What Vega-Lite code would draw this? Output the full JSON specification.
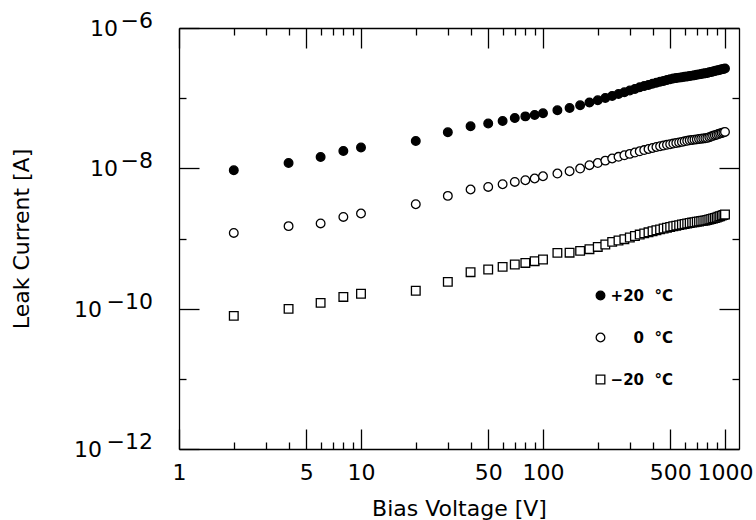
{
  "$schema": "https://vega.github.io/schema/vega-lite/v6.json",
  "autosize": {"type": "none"},
  "padding": {"left": 179, "top": 28, "right": 17, "bottom": 71},
  "width": 560,
  "height": 421,
  "background": "white",
  "config": {"view": {"stroke": null}, "font": "DejaVu Sans"},
  "datasets": {
    "leak": [
      {"T":"+20","V":2,"I":9.4e-9},{"T":"+20","V":4,"I":1.19e-8},{"T":"+20","V":6,"I":1.45e-8},{"T":"+20","V":8,"I":1.77e-8},{"T":"+20","V":10,"I":1.98e-8},
      {"T":"+20","V":20,"I":2.45e-8},{"T":"+20","V":30,"I":3.27e-8},{"T":"+20","V":40,"I":3.98e-8},{"T":"+20","V":50,"I":4.35e-8},{"T":"+20","V":60,"I":4.73e-8},
      {"T":"+20","V":70,"I":5.2e-8},{"T":"+20","V":80,"I":5.5e-8},{"T":"+20","V":90,"I":5.77e-8},{"T":"+20","V":100,"I":6.1e-8},{"T":"+20","V":120,"I":6.73e-8},
      {"T":"+20","V":140,"I":7.25e-8},{"T":"+20","V":160,"I":7.92e-8},{"T":"+20","V":180,"I":8.65e-8},{"T":"+20","V":200,"I":9.33e-8},{"T":"+20","V":220,"I":1.007e-7},
      {"T":"+20","V":240,"I":1.076e-7},{"T":"+20","V":260,"I":1.148e-7},{"T":"+20","V":280,"I":1.216e-7},{"T":"+20","V":300,"I":1.285e-7},{"T":"+20","V":320,"I":1.355e-7},
      {"T":"+20","V":340,"I":1.426e-7},{"T":"+20","V":360,"I":1.486e-7},{"T":"+20","V":380,"I":1.545e-7},{"T":"+20","V":400,"I":1.607e-7},{"T":"+20","V":420,"I":1.663e-7},
      {"T":"+20","V":440,"I":1.714e-7},{"T":"+20","V":460,"I":1.762e-7},{"T":"+20","V":480,"I":1.811e-7},{"T":"+20","V":500,"I":1.858e-7},{"T":"+20","V":520,"I":1.905e-7},
      {"T":"+20","V":540,"I":1.932e-7},{"T":"+20","V":560,"I":1.963e-7},{"T":"+20","V":580,"I":1.988e-7},{"T":"+20","V":600,"I":2.014e-7},{"T":"+20","V":620,"I":2.042e-7},
      {"T":"+20","V":640,"I":2.065e-7},{"T":"+20","V":660,"I":2.094e-7},{"T":"+20","V":680,"I":2.123e-7},{"T":"+20","V":700,"I":2.153e-7},{"T":"+20","V":720,"I":2.183e-7},
      {"T":"+20","V":740,"I":2.213e-7},{"T":"+20","V":760,"I":2.239e-7},{"T":"+20","V":780,"I":2.265e-7},{"T":"+20","V":800,"I":2.291e-7},{"T":"+20","V":820,"I":2.333e-7},
      {"T":"+20","V":840,"I":2.366e-7},{"T":"+20","V":860,"I":2.404e-7},{"T":"+20","V":880,"I":2.438e-7},{"T":"+20","V":900,"I":2.472e-7},{"T":"+20","V":920,"I":2.506e-7},
      {"T":"+20","V":940,"I":2.541e-7},{"T":"+20","V":960,"I":2.576e-7},{"T":"+20","V":980,"I":2.606e-7},{"T":"+20","V":1000,"I":2.642e-7},
      {"T":"0","V":2,"I":1.2e-9},{"T":"0","V":4,"I":1.5e-9},{"T":"0","V":6,"I":1.64e-9},{"T":"0","V":8,"I":2.03e-9},{"T":"0","V":10,"I":2.27e-9},
      {"T":"0","V":20,"I":3.08e-9},{"T":"0","V":30,"I":4.05e-9},{"T":"0","V":40,"I":4.99e-9},{"T":"0","V":50,"I":5.43e-9},{"T":"0","V":60,"I":5.94e-9},
      {"T":"0","V":70,"I":6.4e-9},{"T":"0","V":80,"I":6.77e-9},{"T":"0","V":90,"I":7.16e-9},{"T":"0","V":100,"I":7.71e-9},{"T":"0","V":120,"I":8.43e-9},
      {"T":"0","V":140,"I":9.1e-9},{"T":"0","V":160,"I":9.93e-9},{"T":"0","V":180,"I":1.11e-8},{"T":"0","V":200,"I":1.19e-8},{"T":"0","V":220,"I":1.288e-8},
      {"T":"0","V":240,"I":1.38e-8},{"T":"0","V":260,"I":1.459e-8},{"T":"0","V":280,"I":1.535e-8},{"T":"0","V":300,"I":1.607e-8},{"T":"0","V":320,"I":1.679e-8},
      {"T":"0","V":340,"I":1.75e-8},{"T":"0","V":360,"I":1.82e-8},{"T":"0","V":380,"I":1.885e-8},{"T":"0","V":400,"I":1.95e-8},{"T":"0","V":420,"I":2.014e-8},
      {"T":"0","V":440,"I":2.065e-8},{"T":"0","V":460,"I":2.113e-8},{"T":"0","V":480,"I":2.162e-8},{"T":"0","V":500,"I":2.208e-8},{"T":"0","V":520,"I":2.254e-8},
      {"T":"0","V":540,"I":2.296e-8},{"T":"0","V":560,"I":2.339e-8},{"T":"0","V":580,"I":2.382e-8},{"T":"0","V":600,"I":2.427e-8},{"T":"0","V":620,"I":2.466e-8},
      {"T":"0","V":640,"I":2.506e-8},{"T":"0","V":660,"I":2.535e-8},{"T":"0","V":680,"I":2.564e-8},{"T":"0","V":700,"I":2.588e-8},{"T":"0","V":720,"I":2.618e-8},
      {"T":"0","V":740,"I":2.642e-8},{"T":"0","V":760,"I":2.667e-8},{"T":"0","V":780,"I":2.692e-8},{"T":"0","V":800,"I":2.716e-8},{"T":"0","V":820,"I":2.786e-8},
      {"T":"0","V":840,"I":2.844e-8},{"T":"0","V":860,"I":2.904e-8},{"T":"0","V":880,"I":2.965e-8},{"T":"0","V":900,"I":3.02e-8},{"T":"0","V":920,"I":3.076e-8},
      {"T":"0","V":940,"I":3.133e-8},{"T":"0","V":960,"I":3.192e-8},{"T":"0","V":980,"I":3.243e-8},{"T":"0","V":1000,"I":3.304e-8},
      {"T":"-20","V":2,"I":7.89e-11},{"T":"-20","V":4,"I":9.93e-11},{"T":"-20","V":6,"I":1.21e-10},{"T":"-20","V":8,"I":1.47e-10},{"T":"-20","V":10,"I":1.63e-10},
      {"T":"-20","V":20,"I":1.8e-10},{"T":"-20","V":30,"I":2.41e-10},{"T":"-20","V":40,"I":3.31e-10},{"T":"-20","V":50,"I":3.62e-10},{"T":"-20","V":60,"I":3.94e-10},
      {"T":"-20","V":70,"I":4.26e-10},{"T":"-20","V":80,"I":4.49e-10},{"T":"-20","V":90,"I":4.75e-10},{"T":"-20","V":100,"I":5.02e-10},{"T":"-20","V":120,"I":6.24e-10},
      {"T":"-20","V":140,"I":6.28e-10},{"T":"-20","V":160,"I":6.66e-10},{"T":"-20","V":180,"I":7.05e-10},{"T":"-20","V":200,"I":7.59e-10},{"T":"-20","V":220,"I":8.22e-10},
      {"T":"-20","V":240,"I":8.95e-10},{"T":"-20","V":260,"I":9.35e-10},{"T":"-20","V":280,"I":9.79e-10},{"T":"-20","V":300,"I":1.033e-9},{"T":"-20","V":320,"I":1.084e-9},
      {"T":"-20","V":340,"I":1.138e-9},{"T":"-20","V":360,"I":1.183e-9},{"T":"-20","V":380,"I":1.225e-9},{"T":"-20","V":400,"I":1.268e-9},{"T":"-20","V":420,"I":1.31e-9},
      {"T":"-20","V":440,"I":1.349e-9},{"T":"-20","V":460,"I":1.387e-9},{"T":"-20","V":480,"I":1.422e-9},{"T":"-20","V":500,"I":1.462e-9},{"T":"-20","V":520,"I":1.496e-9},
      {"T":"-20","V":540,"I":1.524e-9},{"T":"-20","V":560,"I":1.552e-9},{"T":"-20","V":580,"I":1.581e-9},{"T":"-20","V":600,"I":1.611e-9},{"T":"-20","V":620,"I":1.637e-9},
      {"T":"-20","V":640,"I":1.663e-9},{"T":"-20","V":660,"I":1.686e-9},{"T":"-20","V":680,"I":1.706e-9},{"T":"-20","V":700,"I":1.73e-9},{"T":"-20","V":720,"I":1.75e-9},
      {"T":"-20","V":740,"I":1.77e-9},{"T":"-20","V":760,"I":1.791e-9},{"T":"-20","V":780,"I":1.807e-9},{"T":"-20","V":800,"I":1.832e-9},{"T":"-20","V":820,"I":1.866e-9},
      {"T":"-20","V":840,"I":1.897e-9},{"T":"-20","V":860,"I":1.932e-9},{"T":"-20","V":880,"I":1.963e-9},{"T":"-20","V":900,"I":1.995e-9},{"T":"-20","V":920,"I":2.037e-9},
      {"T":"-20","V":940,"I":2.075e-9},{"T":"-20","V":960,"I":2.118e-9},{"T":"-20","V":980,"I":2.158e-9},{"T":"-20","V":1000,"I":2.198e-9}
    ],
    "ylab": [
      {"I": 1e-6, "e": "−6", "w": 1},
      {"I": 1e-8, "e": "−8", "w": 1},
      {"I": 1e-10, "e": "−10", "w": 2},
      {"I": 1e-12, "e": "−12", "w": 2}
    ]
  },
  "layer": [
    {
      "data": {"name": "leak"},
      "mark": {"type": "point", "strokeWidth": 1.3, "size": 75, "opacity": 1},
      "encoding": {
        "x": {
          "field": "V", "type": "quantitative",
          "scale": {"type": "log", "domain": [1, 1194], "nice": false, "zero": false},
          "axis": {
            "orient": "bottom",
            "values": [1,2,3,4,5,6,7,8,9,10,20,30,40,50,60,70,80,90,100,200,300,400,500,600,700,800,900,1000],
            "grid": false,
            "domainColor": "black", "domainWidth": 1.3,
            "tickColor": "black", "tickWidth": 1.3,
            "tickSize": {"condition": {"test": "indexof([1,5,10,50,100,500,1000], datum.value) >= 0", "value": -20}, "value": -7},
            "labelExpr": "indexof([1,5,10,50,100,500,1000], datum.value) >= 0 ? '' + datum.value : ''",
            "labelFont": "DejaVu Sans", "labelFontSize": 22, "labelColor": "black",
            "labelOverlap": false, "labelFlush": false, "labelBound": false, "labelPadding": 33,
            "title": "Bias Voltage [V]",
            "titleFont": "DejaVu Sans", "titleFontSize": 22, "titleFontWeight": "normal", "titleColor": "black",
            "titlePadding": 2
          }
        },
        "y": {
          "field": "I", "type": "quantitative",
          "scale": {"type": "log", "domain": [1e-12, 1e-6], "nice": false, "zero": false},
          "axis": {
            "orient": "left",
            "values": [1e-12,1e-11,1e-10,1e-9,1e-8,1e-7,1e-6],
            "grid": false,
            "domainColor": "black", "domainWidth": 1.3,
            "tickColor": "black", "tickWidth": 1.3,
            "tickSize": {"condition": {"test": "abs(round(log(datum.value)/LN10)) % 2 == 0", "value": -20}, "value": -7},
            "labels": false,
            "title": "Leak Current [A]",
            "titleFont": "DejaVu Sans", "titleFontSize": 22, "titleFontWeight": "normal", "titleColor": "black",
            "titlePadding": 145
          }
        },
        "shape": {
          "field": "T", "type": "nominal",
          "scale": {"domain": ["+20", "0", "-20"], "range": ["circle", "circle", "square"]},
          "legend": {
            "title": null, "orient": "none", "legendX": 414, "legendY": 260, "direction": "vertical",
            "padding": 0, "symbolSize": 75, "symbolStrokeColor": "black", "symbolStrokeWidth": 1.3,
            "labelFont": "DejaVu Sans", "labelFontSize": 15, "labelFontWeight": "bold", "labelColor": "black",
            "labelOffset": 65, "labelAlign": "right", "rowPadding": 26,
            "labelExpr": "datum.label == '+20' ? '+20\u00a0\u00a0°C' : datum.label == '0' ? '0\u00a0\u00a0°C' : '−20\u00a0\u00a0°C'",
            "encode": {"symbols": {"update": {"stroke": {"value": "black"}, "strokeWidth": {"value": 1.3}}}}
          }
        },
        "fill": {
          "field": "T", "type": "nominal",
          "scale": {"domain": ["+20", "0", "-20"], "range": ["black", "white", "white"]},
          "legend": {
            "title": null, "orient": "none", "legendX": 414, "legendY": 260, "direction": "vertical",
            "padding": 0, "symbolSize": 75, "symbolStrokeColor": "black", "symbolStrokeWidth": 1.3,
            "labelFont": "DejaVu Sans", "labelFontSize": 15, "labelFontWeight": "bold", "labelColor": "black",
            "labelOffset": 65, "labelAlign": "right", "rowPadding": 26,
            "labelExpr": "datum.label == '+20' ? '+20\u00a0\u00a0°C' : datum.label == '0' ? '0\u00a0\u00a0°C' : '−20\u00a0\u00a0°C'",
            "encode": {"symbols": {"update": {"stroke": {"value": "black"}, "strokeWidth": {"value": 1.3}}}}
          }
        },
        "stroke": {
          "field": "T", "type": "nominal",
          "scale": {"domain": ["+20", "0", "-20"], "range": ["black", "black", "black"]},
          "legend": {
            "title": null, "orient": "none", "legendX": 414, "legendY": 260, "direction": "vertical",
            "padding": 0, "symbolSize": 75, "symbolStrokeColor": "black", "symbolStrokeWidth": 1.3,
            "labelFont": "DejaVu Sans", "labelFontSize": 15, "labelFontWeight": "bold", "labelColor": "black",
            "labelOffset": 65, "labelAlign": "right", "rowPadding": 26,
            "labelExpr": "datum.label == '+20' ? '+20\u00a0\u00a0°C' : datum.label == '0' ? '0\u00a0\u00a0°C' : '−20\u00a0\u00a0°C'",
            "encode": {"symbols": {"update": {"stroke": {"value": "black"}, "strokeWidth": {"value": 1.3}}}}
          }
        }
      }
    },
    {
      "data": {"name": "ylab"},
      "mark": {"type": "text", "font": "DejaVu Sans", "fontSize": 22, "color": "black", "align": "right", "baseline": "middle", "dx": -26, "dy": -7},
      "encoding": {
        "x": {
          "datum": 1, "type": "quantitative",
          "axis": {
            "orient": "top",
            "values": [1,2,3,4,5,6,7,8,9,10,20,30,40,50,60,70,80,90,100,200,300,400,500,600,700,800,900,1000],
            "grid": false, "labels": false, "title": null,
            "domainColor": "black", "domainWidth": 1.3,
            "tickColor": "black", "tickWidth": 1.3,
            "tickSize": {"condition": {"test": "indexof([1,5,10,50,100,500,1000], datum.value) >= 0", "value": -20}, "value": -7}
          }
        },
        "y": {
          "field": "I", "type": "quantitative",
          "axis": {
            "orient": "right",
            "values": [1e-12,1e-11,1e-10,1e-9,1e-8,1e-7,1e-6],
            "grid": false, "labels": false, "title": null,
            "domainColor": "black", "domainWidth": 1.3,
            "tickColor": "black", "tickWidth": 1.3,
            "tickSize": {"condition": {"test": "abs(round(log(datum.value)/LN10)) % 2 == 0", "value": -20}, "value": -7}
          }
        },
        "text": {"field": "e", "type": "nominal"}
      }
    },
    {
      "data": {"name": "ylab"},
      "transform": [{"filter": "datum.w == 1"}],
      "mark": {"type": "text", "font": "DejaVu Sans", "fontSize": 22, "color": "black", "align": "right", "baseline": "middle", "dx": -61, "dy": 1},
      "encoding": {
        "x": {"datum": 1, "type": "quantitative", "axis": null},
        "y": {"field": "I", "type": "quantitative", "axis": null},
        "text": {"value": "10"}
      }
    },
    {
      "data": {"name": "ylab"},
      "transform": [{"filter": "datum.w == 2"}],
      "mark": {"type": "text", "font": "DejaVu Sans", "fontSize": 22, "color": "black", "align": "right", "baseline": "middle", "dx": -77, "dy": 1},
      "encoding": {
        "x": {"datum": 1, "type": "quantitative", "axis": null},
        "y": {"field": "I", "type": "quantitative", "axis": null},
        "text": {"value": "10"}
      }
    }
  ]
}
